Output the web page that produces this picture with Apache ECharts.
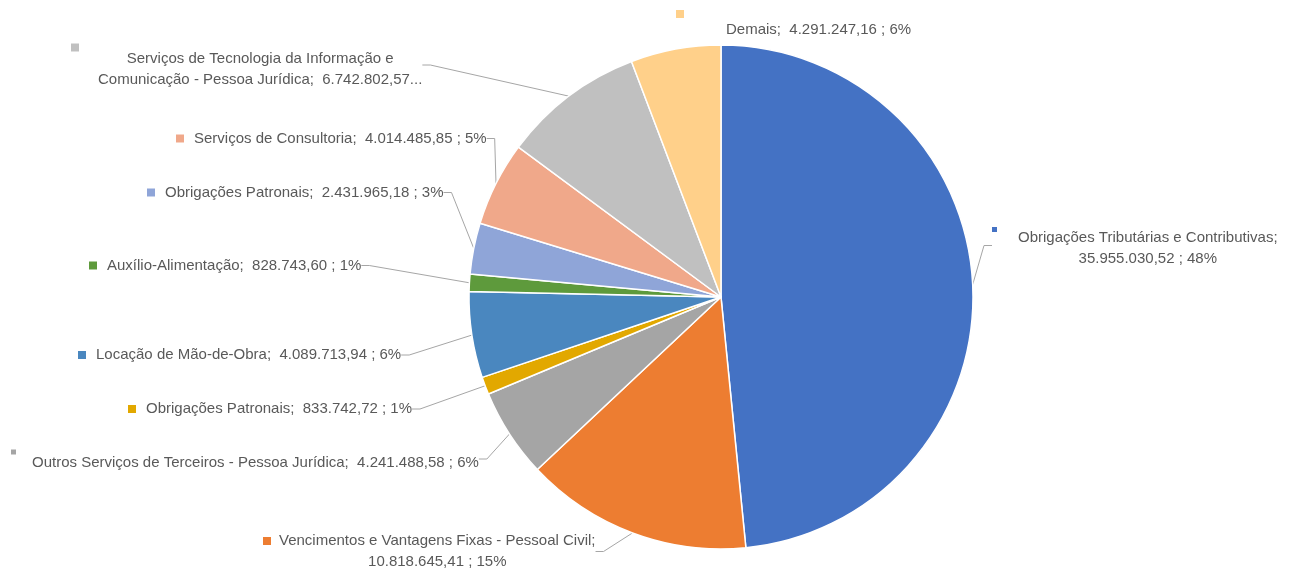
<!DOCTYPE html>
<html>
<head>
<meta charset="utf-8">
<script src="https://cdn.jsdelivr.net/npm/echarts@6/dist/echarts.min.js"></script>
<style>
html,body{margin:0;padding:0;background:#fff;}
#chart{width:1299px;height:574px;}
</style>
</head>
<body>
<div id="chart"></div>
<script>
// ---- data ----
const categories = [
  'Obrigações Tributárias e Contributivas',
  'Vencimentos e Vantagens Fixas - Pessoal Civil',
  'Outros Serviços de Terceiros - Pessoa Jurídica',
  'Obrigações Patronais',
  'Locação de Mão-de-Obra',
  'Auxílio-Alimentação',
  'Obrigações Patronais',
  'Serviços de Consultoria',
  'Serviços de Tecnologia da Informação e Comunicação - Pessoa Jurídica',
  'Demais'
];
const values = [
  35955030.52, 10818645.41, 4241488.58, 833742.72, 4089713.94,
  828743.60, 2431965.18, 4014485.85, 6742802.57, 4291247.16
];
const colors = [
  '#4472C4', '#ED7D31', '#A5A5A5', '#E2A800', '#4A87BF',
  '#5E9A3C', '#8FA5D8', '#F0A88A', '#C0C0C0', '#FFD08A'
];

// ---- label layout (presentation only) ----
const FONT = 'Liberation Sans';
const FS = 15;
const LH = 21;
const TXT = '#595959';
const layouts = [
  {type: 'wrap2',   x: 992, y: 227,   m: 5, gap: 21, vTop: true},
  {type: 'wrap2',   x: 263, y: 530.5, m: 8, gap: 8},
  {type: 'top',     x: 11,  y: 451.5, m: 5, sp: 21, mlh: 1},
  {type: 'inline',  x: 128, y: 398.5, m: 8, gap: 10},
  {type: 'inline',  x: 78,  y: 344.5, m: 8, gap: 10},
  {type: 'inline',  x: 89,  y: 255,   m: 8, gap: 10},
  {type: 'inline',  x: 147, y: 182,   m: 8, gap: 10},
  {type: 'inline',  x: 176, y: 128,   m: 8, gap: 10},
  {type: 'topWrap', x: 71,  y: 47,    m: 8, sp: 27, mlh: 1, breakAfterWord: 6, truncated: true},
  {type: 'top',     x: 676, y: 9,     m: 8, sp: 50, mlh: 10, noLine: true}
];

function fmtBR(v) {
  const parts = v.toFixed(2).split('.');
  return parts[0].replace(/\B(?=(\d{3})+(?!\d))/g, '.') + ',' + parts[1];
}

const rich = {
  t: {fontFamily: FONT, fontSize: FS, color: TXT, lineHeight: LH, align: 'left'},
  c: {fontFamily: FONT, fontSize: FS, color: TXT, lineHeight: LH, align: 'center'}
};
layouts.forEach(function (L, i) {
  const mStyle = {width: L.m, height: L.m, backgroundColor: colors[i], align: 'left'};
  if (L.vTop) mStyle.verticalAlign = 'top';
  if (L.mlh != null) mStyle.lineHeight = L.mlh;
  rich['m' + i] = mStyle;
  if (L.gap != null) rich['g' + i] = {width: L.gap, height: 1, align: 'left'};
  if (L.type === 'wrap2') rich['s' + i] = {width: L.m + L.gap, height: 1, align: 'center'};
  if (L.type === 'top') rich['s' + i] = {width: L.sp, height: 1, align: 'left'};
  if (L.type === 'topWrap') rich['s' + i] = {width: L.sp, height: 1, align: 'center'};
});

function labelText(p) {
  const i = p.dataIndex;
  const L = layouts[i];
  const val = fmtBR(p.value);
  const pct = Math.round(p.percent) + '%';
  const name = p.name;
  if (L.type === 'inline') {
    return '{m' + i + '|}{g' + i + '|}{t|' + name + ';  ' + val + ' ; ' + pct + '}';
  }
  if (L.type === 'wrap2') {
    return '{m' + i + '|}{g' + i + '|}{t|' + name + ';}\n{s' + i + '|}{c|' + val + ' ; ' + pct + '}';
  }
  if (L.type === 'top') {
    return '{m' + i + '|}\n{s' + i + '|}{t|' + name + ';  ' + val + ' ; ' + pct + '}';
  }
  // topWrap
  const words = name.split(' ');
  const l1 = words.slice(0, L.breakAfterWord).join(' ');
  const l2 = words.slice(L.breakAfterWord).join(' ');
  const tail = L.truncated ? val + '...' : val + ' ; ' + pct;
  return '{m' + i + '|}\n{s' + i + '|}{c|' + l1 + '}\n{s' + i + '|}{c|' + l2 + ';  ' + tail + '}';
}

const seriesData = categories.map(function (c, i) {
  const item = {name: c, value: values[i], itemStyle: {color: colors[i]}};
  if (layouts[i].noLine) item.labelLine = {show: false};
  return item;
});

const chart = echarts.init(document.getElementById('chart'), null, {renderer: 'canvas'});
chart.setOption({
  animation: false,
  backgroundColor: '#ffffff',
  series: [{
    type: 'pie',
    center: [721, 297],
    radius: 252,
    startAngle: 90,
    clockwise: true,
    avoidLabelOverlap: false,
    data: seriesData,
    itemStyle: {borderColor: '#ffffff', borderWidth: 1.5},
    label: {
      show: true,
      position: 'outside',
      overflow: 'none',
      fontFamily: FONT,
      fontSize: FS,
      color: TXT,
      lineHeight: LH,
      formatter: labelText,
      rich: rich
    },
    labelLine: {
      show: true,
      length: 10,
      length2: 8,
      lineStyle: {color: '#A6A6A6', width: 1}
    },
    labelLayout: function (params) {
      const L = layouts[params.dataIndex];
      return {x: L.x, y: L.y, align: 'left', verticalAlign: 'top'};
    },
    emphasis: {disabled: true}
  }]
});
</script>
</body>
</html>
